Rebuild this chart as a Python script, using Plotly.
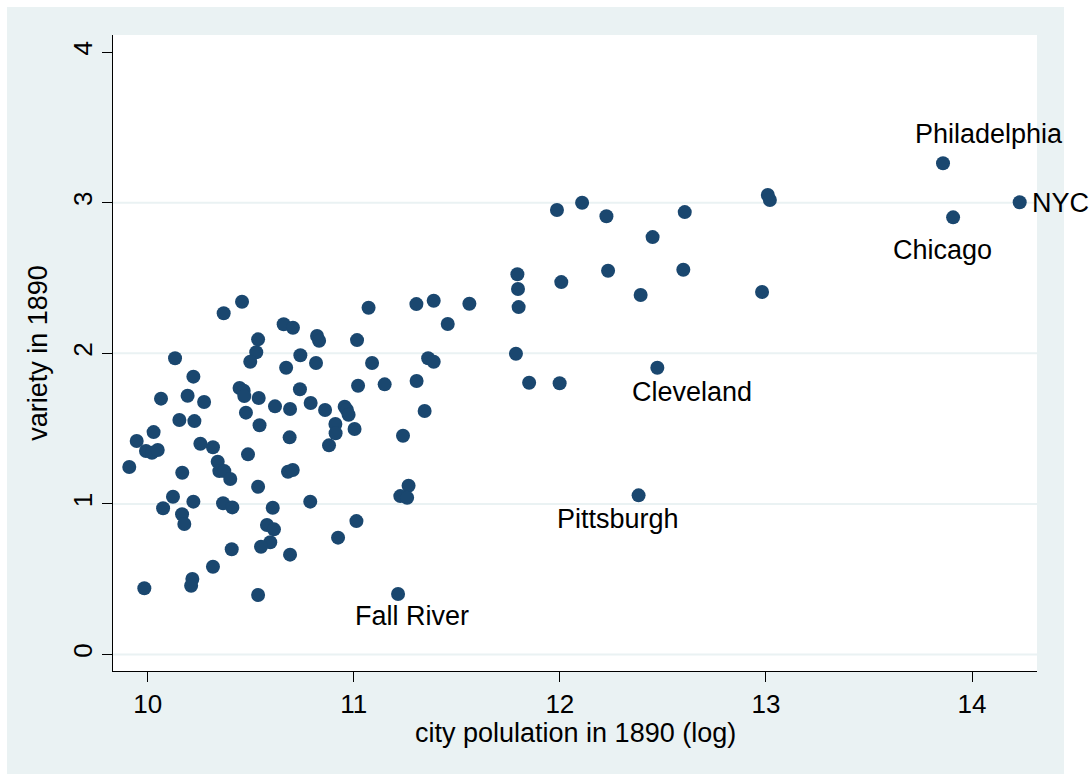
import plotly.graph_objects as go

# ---- data ----
log_pop = [
    10.458, 10.369, 10.660, 10.705, 10.536, 10.527, 10.498, 10.822, 10.832, 11.072,
    11.016, 11.089, 11.021, 11.150, 10.741, 10.672, 10.817, 10.133, 10.222, 10.065,
    10.194, 10.274, 10.446, 10.466, 10.469, 10.539, 10.477, 10.618, 10.691, 10.739,
    10.791, 10.861, 10.956, 10.967, 10.975, 10.911, 10.912, 11.004, 10.880, 10.154,
    10.227, 10.029, 9.947, 9.992, 10.021, 10.049, 9.911, 10.168, 10.256, 10.317,
    10.340, 10.348, 10.372, 10.401, 10.487, 10.543, 10.689, 10.681, 10.704, 10.536,
    10.123, 10.075, 10.167, 10.178, 10.222, 10.366, 10.411, 10.607, 10.789, 10.579,
    10.613, 10.595, 10.550, 10.408, 10.691, 10.924, 11.013, 10.317, 10.217, 10.211,
    9.984, 10.536, 11.304, 11.388, 11.561, 11.456, 11.361, 11.388, 11.305, 11.344,
    11.239, 11.266, 11.226, 11.259, 11.215, 11.986, 12.108, 12.226, 12.606, 12.450,
    13.009, 13.019, 11.794, 11.797, 11.800, 12.007, 12.234, 12.599, 12.392, 12.981,
    11.787, 12.473, 11.851, 11.999, 12.382, 13.859, 13.908, 14.231,
]
variety = [
    2.343, 2.266, 2.193, 2.170, 2.093, 2.007, 1.944, 2.115, 2.084, 2.303,
    2.088, 1.936, 1.785, 1.794, 1.987, 1.904, 1.936, 1.967, 1.845, 1.699,
    1.718, 1.677, 1.770, 1.752, 1.716, 1.703, 1.606, 1.648, 1.630, 1.761,
    1.670, 1.624, 1.645, 1.624, 1.592, 1.531, 1.469, 1.497, 1.389, 1.557,
    1.550, 1.477, 1.418, 1.351, 1.340, 1.358, 1.245, 1.207, 1.400, 1.376,
    1.280, 1.218, 1.218, 1.165, 1.329, 1.522, 1.442, 1.214, 1.225, 1.114,
    1.048, 0.971, 0.931, 0.867, 1.015, 1.004, 0.977, 0.975, 1.015, 0.860,
    0.831, 0.745, 0.716, 0.699, 0.663, 0.776, 0.886, 0.583, 0.501, 0.457,
    0.440, 0.395, 2.327, 2.349, 2.329, 2.195, 1.967, 1.944, 1.816, 1.617,
    1.453, 1.121, 1.052, 1.041, 0.402, 2.952, 3.000, 2.910, 2.938, 2.772,
    3.051, 3.018, 2.525, 2.427, 2.307, 2.473, 2.548, 2.555, 2.387, 2.407,
    1.997, 1.904, 1.805, 1.801, 1.057, 3.262, 2.903, 3.003,
]

label_names = ["Philadelphia", "NYC", "Chicago", "Cleveland", "Pittsburgh", "Fall River"]
label_x = [13.859, 14.231, 13.908, 12.473, 12.382, 11.215]
label_y = [3.262, 3.003, 2.903, 1.904, 1.057, 0.402]

x_ticks = [10, 11, 12, 13, 14]
y_ticks = [0, 1, 2, 3, 4]
grid_values = [0, 1, 2, 3]

x_title = "city polulation in 1890 (log)"
y_title = "variety in 1890"

# ---- styling ----
BG = "#EAF2F3"
MARK = "#1A476F"
FONT = "Liberation Sans, Arial, sans-serif"
FS_TICK = 26
FS_TEXT = 27

# label placement (pixel offsets from the point): xshift, yshift, xanchor
label_style = {
    "Philadelphia": (46, 29, "center"),
    "NYC": (10, -1, "left"),
    "Chicago": (-11, -33, "center"),
    "Cleveland": (35, -24, "center"),
    "Pittsburgh": (-21, -24, "center"),
    "Fall River": (14, -22, "center"),
}

W, H = 1090, 774
L, T = 113, 35
PW, PH = 924, 636

fig = go.Figure()
fig.add_trace(go.Scatter(
    x=log_pop, y=variety, mode="markers",
    marker=dict(color=MARK, size=14, line=dict(width=0)),
    hoverinfo="x+y", cliponaxis=False,
))

shapes = [
    dict(type="rect", xref="paper", yref="paper",
         x0=(7 - L) / PW, x1=(1064 - L) / PW,
         y0=-0.3, y1=(T + PH - 7) / PH,
         fillcolor=BG, line=dict(width=0), layer="below"),
    dict(type="rect", xref="paper", yref="paper", x0=0, x1=1, y0=0, y1=1,
         fillcolor="white", line=dict(width=0), layer="below"),
]
for g in grid_values:
    shapes.append(dict(type="line", xref="paper", yref="y", x0=0, x1=1, y0=g, y1=g,
                       line=dict(color=BG, width=2), layer="below"))

annotations = []
for name, ax, ay in zip(label_names, label_x, label_y):
    xs, ys, xa = label_style[name]
    annotations.append(dict(
        x=ax, y=ay, xref="x", yref="y", text=name, showarrow=False,
        xanchor=xa, yanchor="middle", xshift=xs, yshift=ys,
        font=dict(family=FONT, size=FS_TEXT, color="black"),
    ))
# x-axis title
annotations.append(dict(
    x=0.5, y=-(733 - (T + PH)) / PH, xref="paper", yref="paper", text=x_title,
    showarrow=False, xanchor="center", yanchor="middle",
    font=dict(family=FONT, size=FS_TEXT, color="black"),
))

fig.update_layout(
    width=W, height=H,
    margin=dict(l=L, r=W - L - PW, t=T, b=H - T - PH, pad=0),
    paper_bgcolor="white", plot_bgcolor="rgba(0,0,0,0)",
    showlegend=False,
    font=dict(family=FONT, size=FS_TICK, color="black"),
    shapes=shapes, annotations=annotations,
)
fig.update_xaxes(
    range=[9.832, 14.315], tickvals=x_ticks, ticktext=[str(v) for v in x_ticks],
    showgrid=False, zeroline=False, showline=True, linecolor="black", linewidth=1.2,
    ticks="outside", ticklen=10, tickwidth=1.2, tickcolor="black",
    tickfont=dict(family=FONT, size=FS_TICK, color="black"),
    automargin=False,
)
fig.update_yaxes(
    range=[-0.1096, 4.114], tickvals=y_ticks, ticktext=[str(v) for v in y_ticks],
    showgrid=False, zeroline=False, showline=True, linecolor="black", linewidth=1.2,
    ticks="outside", ticklen=10, tickwidth=1.2, tickcolor="black", tickangle=-90,
    tickfont=dict(family=FONT, size=FS_TICK, color="black"),
    title=dict(text=y_title, font=dict(family=FONT, size=FS_TEXT, color="black"), standoff=12),
    automargin=False,
)

fig.write_html(
    "out.html",
    config={"displayModeBar": False},
    post_script="document.body.style.margin='0';document.body.style.overflow='hidden';",
)
